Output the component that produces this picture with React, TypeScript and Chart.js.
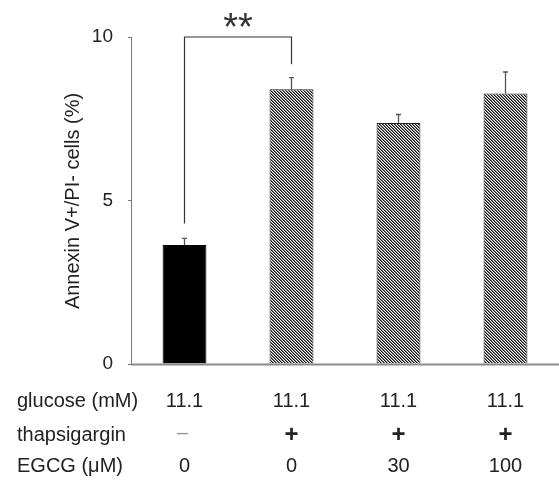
import React, { useEffect, useRef } from "react";
import { Chart, registerables } from "chart.js";

Chart.register(...registerables);

const categories = ["control", "thapsigargin", "thapsigargin + EGCG 30", "thapsigargin + EGCG 100"];
const annexinValues = [3.64, 8.4, 7.37, 8.27];
const annexinErrors = [0.2, 0.36, 0.26, 0.66];
const yTicks = [0, 5, 10];
const rowHeaders = ["glucose (mM)", "thapsigargin", "EGCG (\u03bcM)"];
const glucoseRow = ["11.1", "11.1", "11.1", "11.1"];
const thapsigarginRow = ["\u2013", "+", "+", "+"];
const egcgRow = ["0", "0", "30", "100"];
const yAxisTitle = "Annexin V+/PI- cells (%)";
const sigPair = [0, 1];
const sigTop = 10;
const sigLegEnds = [4.3, 9.17];
const sigLabel = "**";

const FONT = "'Liberation Sans', Arial, Helvetica, sans-serif";

function makeHatch(): CanvasPattern | string {
  const c = document.createElement("canvas");
  c.width = 3;
  c.height = 3;
  const g = c.getContext("2d");
  if (!g) return "#777";
  g.fillStyle = "#ffffff";
  g.fillRect(0, 0, 3, 3);
  for (let i = 0; i < 3; i++) {
    g.fillStyle = "#111111";
    g.fillRect(i, i, 1, 1);
    g.fillStyle = "#7a7a7a";
    g.fillRect((i + 1) % 3, i, 1, 1);
  }
  const p = g.createPattern(c, "repeat");
  return p || "#777";
}

const overlayPlugin = {
  id: "overlay",
  afterDatasetsDraw(chart: any) {
    const ctx = chart.ctx as CanvasRenderingContext2D;
    const xs = chart.scales.x;
    const ys = chart.scales.y;
    const area = chart.chartArea;
    ctx.save();
    // error bars
    ctx.strokeStyle = "#555";
    ctx.lineWidth = 1.3;
    annexinValues.forEach((v, i) => {
      const x = xs.getPixelForValue(i);
      const y0 = ys.getPixelForValue(v);
      const y1 = ys.getPixelForValue(v + annexinErrors[i]);
      ctx.beginPath();
      ctx.moveTo(x, y0);
      ctx.lineTo(x, y1);
      ctx.moveTo(x - 2.5, y1);
      ctx.lineTo(x + 2.5, y1);
      ctx.stroke();
    });
    // significance bracket
    const xa = xs.getPixelForValue(sigPair[0]);
    const xb = xs.getPixelForValue(sigPair[1]);
    const yt = ys.getPixelForValue(sigTop);
    ctx.strokeStyle = "#333";
    ctx.lineWidth = 1.2;
    ctx.beginPath();
    ctx.moveTo(xa, ys.getPixelForValue(sigLegEnds[0]));
    ctx.lineTo(xa, yt);
    ctx.lineTo(xb, yt);
    ctx.lineTo(xb, ys.getPixelForValue(sigLegEnds[1]));
    ctx.stroke();
    ctx.fillStyle = "#333";
    ctx.font = `38px ${FONT}`;
    ctx.textAlign = "center";
    ctx.textBaseline = "middle";
    ctx.fillText(sigLabel, (xa + xb) / 2, yt - 7);
    // extended x baseline
    ctx.strokeStyle = "#8a8a8a";
    ctx.lineWidth = 2;
    ctx.beginPath();
    ctx.moveTo(area.left, ys.getPixelForValue(0) + 0.5);
    ctx.lineTo(chart.width, ys.getPixelForValue(0) + 0.5);
    ctx.stroke();
    // y title
    ctx.fillStyle = "#222";
    ctx.font = `20px ${FONT}`;
    ctx.translate(73, 201);
    ctx.rotate(-Math.PI / 2);
    ctx.fillText(yAxisTitle, 0, 0);
    ctx.restore();

    // bottom table
    ctx.save();
    ctx.fillStyle = "#222";
    ctx.font = `20px ${FONT}`;
    ctx.textBaseline = "alphabetic";
    const rows = [glucoseRow, thapsigarginRow, egcgRow];
    const baselines = [407, 441, 472];
    rows.forEach((row, r) => {
      ctx.textAlign = "left";
      ctx.fillText(rowHeaders[r], 17, baselines[r]);
      ctx.textAlign = "center";
      row.forEach((t, i) => {
        const x = xs.getPixelForValue(i);
        if (t === "+") {
          ctx.save();
          ctx.font = `bold 24px ${FONT}`;
          ctx.fillText(t, x, baselines[r] + 1);
          ctx.restore();
        } else if (t === "\u2013") {
          ctx.save();
          ctx.fillStyle = "#999";
          ctx.fillText(t, x - 2, baselines[r] - 2);
          ctx.restore();
        } else {
          ctx.fillText(t, x, baselines[r]);
        }
      });
    });
    ctx.restore();
  },
};

export default function App() {
  const ref = useRef<HTMLCanvasElement | null>(null);
  useEffect(() => {
    if (!ref.current) return;
    const hatch = makeHatch();
    const chart = new Chart(ref.current, {
      type: "bar",
      data: {
        labels: categories,
        datasets: [
          {
            data: annexinValues,
            backgroundColor: ["#000000", hatch, hatch, hatch],
            borderColor: ["#000000", "#222222", "#222222", "#222222"],
            borderWidth: 1,
            categoryPercentage: 1,
            barPercentage: 0.41,
          },
        ],
      },
      options: {
        animation: false,
        responsive: false,
        maintainAspectRatio: false,
        layout: { padding: { left: 0, right: 0, top: 37, bottom: 0 } },
        plugins: { legend: { display: false }, tooltip: { enabled: false }, title: { display: false } },
        scales: {
          x: {
            type: "category",
            grid: { display: false },
            border: { display: false },
            ticks: { display: false },
            afterFit: (s: any) => {
              s.height = 126;
            },
          },
          y: {
            min: 0,
            max: 10,
            afterFit: (s: any) => {
              s.width = 131;
            },
            afterBuildTicks: (s: any) => {
              s.ticks = yTicks.map((v) => ({ value: v }));
            },
            grid: { drawOnChartArea: false, drawTicks: true, tickLength: 3, color: "#777" },
            border: { display: true, color: "#777", width: 1 },
            ticks: {
              padding: 15,
              color: "#222",
              font: { family: FONT, size: 19 },
            },
          },
        },
      },
      plugins: [overlayPlugin],
    });
    return () => chart.destroy();
  }, []);
  return (
    <div style={{ position: "fixed", left: 0, top: 0, width: 559, height: 490, background: "#fff" }}>
      <canvas ref={ref} width={559} height={490} style={{ display: "block" }} />
    </div>
  );
}
